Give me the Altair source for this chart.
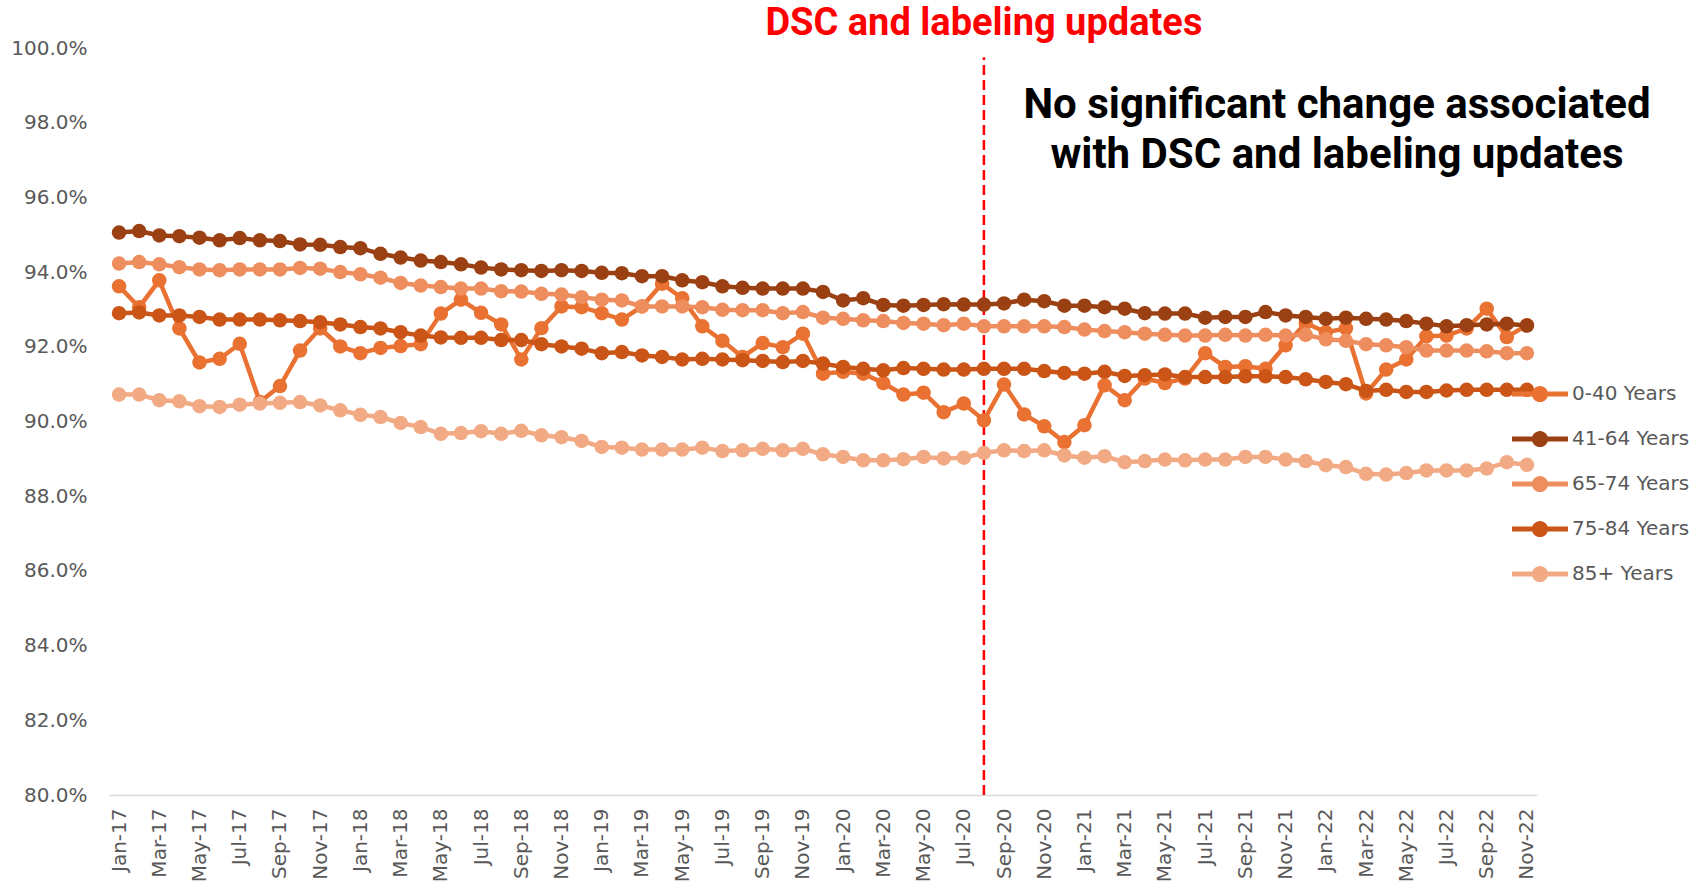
import altair as alt
import pandas as pd

month_names = ["Jan", "Feb", "Mar", "Apr", "May", "Jun",
               "Jul", "Aug", "Sep", "Oct", "Nov", "Dec"]
months = [f"{m}-{y}" for y in range(17, 23) for m in month_names][:71]
tick_labels = months[::2]

series = ["0-40 Years", "41-64 Years", "65-74 Years", "75-84 Years", "85+ Years"]
colors = ["#E97132", "#9A4013", "#EE8E5E", "#CA5516", "#F2AA84"]

v_0_40 = [93.62, 93.06, 93.78, 92.49, 91.58, 91.68, 92.08, 90.52, 90.95, 91.90,
          92.49, 92.01, 91.83, 91.97, 92.02, 92.07, 92.89, 93.26, 92.91, 92.60,
          91.66, 92.50, 93.08, 93.06, 92.90, 92.73, 93.08, 93.69, 93.30, 92.55,
          92.16, 91.73, 92.10, 91.99, 92.35, 91.28, 91.33, 91.28, 91.03, 90.72,
          90.77, 90.25, 90.48, 90.03, 90.99, 90.19, 89.87, 89.45, 89.90, 90.97,
          90.57, 91.15, 91.03, 91.15, 91.83, 91.46, 91.48, 91.41, 92.04, 92.64,
          92.39, 92.49, 90.75, 91.39, 91.66, 92.28, 92.30, 92.49, 93.02, 92.26,
          92.58]
v_41_64 = [95.06, 95.10, 94.98, 94.96, 94.92, 94.85, 94.91, 94.85, 94.83, 94.74,
           94.73, 94.67, 94.64, 94.49, 94.39, 94.31, 94.27, 94.21, 94.12, 94.07,
           94.05, 94.03, 94.05, 94.03, 93.98, 93.97, 93.89, 93.89, 93.78, 93.73,
           93.62, 93.58, 93.56, 93.56, 93.56, 93.47, 93.24, 93.30, 93.12, 93.10,
           93.12, 93.14, 93.13, 93.13, 93.16, 93.26, 93.22, 93.10, 93.10, 93.06,
           93.02, 92.90, 92.89, 92.89, 92.78, 92.80, 92.80, 92.93, 92.84, 92.80,
           92.75, 92.78, 92.75, 92.73, 92.69, 92.62, 92.55, 92.58, 92.60, 92.62,
           92.57]
v_65_74 = [94.23, 94.27, 94.21, 94.13, 94.07, 94.05, 94.07, 94.07, 94.07, 94.11,
           94.09, 94.00, 93.94, 93.85, 93.71, 93.64, 93.60, 93.56, 93.56, 93.49,
           93.48, 93.42, 93.40, 93.33, 93.26, 93.24, 93.08, 93.08, 93.08, 93.06,
           92.99, 92.98, 92.98, 92.90, 92.93, 92.78, 92.75, 92.71, 92.69, 92.64,
           92.62, 92.58, 92.62, 92.55, 92.55, 92.55, 92.55, 92.53, 92.46, 92.42,
           92.39, 92.35, 92.32, 92.30, 92.30, 92.32, 92.30, 92.32, 92.30, 92.32,
           92.20, 92.16, 92.07, 92.04, 91.99, 91.90, 91.90, 91.90, 91.88, 91.83,
           91.83]
v_75_84 = [92.90, 92.92, 92.84, 92.84, 92.80, 92.73, 92.73, 92.73, 92.71, 92.69,
           92.66, 92.60, 92.53, 92.49, 92.39, 92.30, 92.25, 92.24, 92.24, 92.18,
           92.18, 92.07, 92.01, 91.95, 91.83, 91.86, 91.77, 91.73, 91.66, 91.68,
           91.66, 91.64, 91.62, 91.59, 91.62, 91.55, 91.46, 91.41, 91.37, 91.43,
           91.41, 91.39, 91.39, 91.41, 91.41, 91.41, 91.35, 91.30, 91.28, 91.33,
           91.22, 91.24, 91.26, 91.19, 91.19, 91.19, 91.21, 91.21, 91.19, 91.13,
           91.06, 91.00, 90.82, 90.85, 90.79, 90.79, 90.83, 90.85, 90.85, 90.85,
           90.85]
v_85_plus = [90.72, 90.72, 90.57, 90.54, 90.41, 90.39, 90.45, 90.48, 90.50, 90.52,
             90.43, 90.30, 90.18, 90.12, 89.96, 89.85, 89.67, 89.69, 89.74, 89.67,
             89.75, 89.63, 89.58, 89.48, 89.32, 89.30, 89.25, 89.25, 89.25, 89.30,
             89.21, 89.23, 89.27, 89.23, 89.27, 89.12, 89.05, 88.96, 88.96, 88.99,
             89.05, 89.01, 89.03, 89.16, 89.23, 89.21, 89.23, 89.09, 89.03, 89.07,
             88.91, 88.94, 88.98, 88.96, 88.98, 88.98, 89.05, 89.05, 88.98, 88.94,
             88.83, 88.78, 88.60, 88.58, 88.62, 88.69, 88.69, 88.69, 88.74, 88.91,
             88.84]

event_month = "Aug-20"
event_label = "DSC and labeling updates"
event_top = 99.75
event_bottom = 80.0
note_text = "No significant change associated\nwith DSC and labeling updates"

all_values = [v_0_40, v_41_64, v_65_74, v_75_84, v_85_plus]
rows = []
for s, vals in zip(series, all_values):
    for i, (m, v) in enumerate(zip(months, vals)):
        rows.append({"series": s, "month": m, "idx": i, "value": v})
df = pd.DataFrame(rows)

LABEL_FONT = "DejaVu Sans"
GREY = "#595959"

x_enc = alt.X(
    "month:O",
    sort=months,
    scale=alt.Scale(type="point", padding=0.5),
    axis=alt.Axis(
        values=tick_labels, labelAngle=270, ticks=False, grid=False,
        domain=True, domainColor="#D9D9D9", domainWidth=1.5,
        labelFont=LABEL_FONT, labelFontSize=20, labelColor=GREY,
        labelPadding=13, title=None,
    ),
)
y_enc = alt.Y(
    "value:Q",
    scale=alt.Scale(domain=[80, 100], nice=False, zero=False),
    axis=alt.Axis(
        values=list(range(80, 101, 2)),
        labelExpr="format(datum.value, '.1f') + '%'",
        domain=False, ticks=False, grid=False,
        labelFont=LABEL_FONT, labelFontSize=20, labelColor=GREY,
        labelPadding=22, title=None,
    ),
)

legend_path = ("M-1,-0.085H1V0.085H-1Z "
               "M0.29,0A0.29,0.29 0 1,1 -0.29,0A0.29,0.29 0 1,1 0.29,0Z")

legend = alt.Legend(
    title=None, orient="none", legendX=1403, legendY=318,
    symbolType=legend_path, symbolSize=3136,
    symbolStrokeWidth=0, symbolOpacity=1,
    labelFont=LABEL_FONT, labelFontSize=20, labelColor=GREY,
    labelOffset=4, rowPadding=7, padding=0, labelLimit=300,
)
color_enc = alt.Color("series:N", scale=alt.Scale(domain=series, range=colors),
                      legend=legend)

base = alt.Chart(df)
layers = []
for s, c in zip(series, colors):
    sub = base.transform_filter(alt.datum.series == s)
    layers.append(
        sub.mark_line(strokeWidth=4.5, color=c).encode(
            x=x_enc, y=y_enc, order=alt.Order("idx:Q"),
        )
    )
    layers.append(
        sub.mark_circle(size=210, opacity=1).encode(
            x=x_enc, y=y_enc, color=color_enc,
        )
    )

event_df = pd.DataFrame({
    "month": [event_month], "top": [event_top], "bottom": [event_bottom],
    "label": [event_label],
})
rule = alt.Chart(event_df).mark_rule(
    color="#FF0000", strokeWidth=2.5, strokeDash=[10, 5]
).encode(
    x=alt.X("month:O", sort=months),
    y=alt.Y("bottom:Q"),
    y2="top:Q",
)
event_text = alt.Chart(event_df).mark_text(
    font="Roboto", fontWeight="bold", fontSize=38, color="#FF0000",
    align="center", baseline="middle",
).encode(
    x=alt.X("month:O", sort=months),
    y=alt.value(-24),
    text="label:N",
)
note = alt.Chart(event_df).mark_text(
    font="Roboto", fontWeight="bold", fontSize=42, color="#000000",
    align="center", baseline="middle", lineBreak="\n", lineHeight=50,
).encode(
    x=alt.value(1228),
    y=alt.value(57),
    text=alt.value(note_text),
)

chart = alt.layer(rule, *layers, event_text, note).properties(
    width=1428,
    height=747,
    padding={"left": 109, "top": 48, "right": 170, "bottom": 93},
    autosize=alt.AutoSizeParams(type="none"),
    background="white",
).configure_view(stroke=None)

chart.save("out.html", embed_options={"renderer": "svg", "actions": False})
